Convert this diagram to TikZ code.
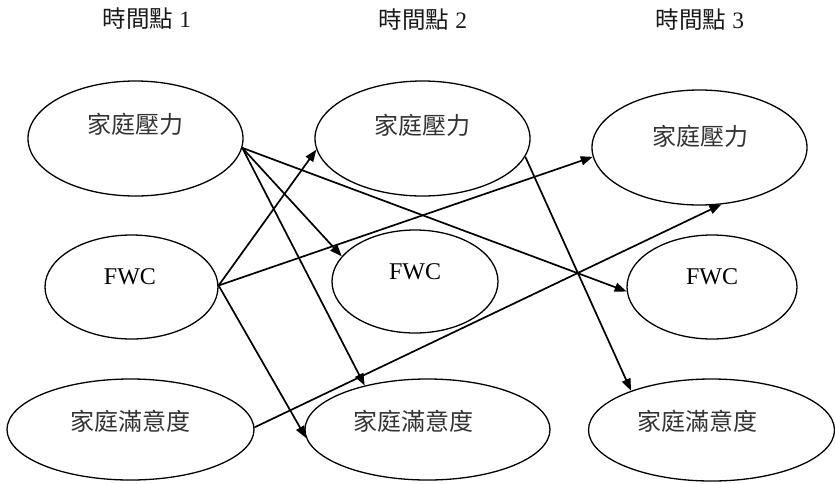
\documentclass[tikz,border=0pt]{standalone}
\usepackage{fontspec}
\setmainfont{Liberation Serif}
\newfontfamily\cjk{Noto Sans CJK TC}
\usetikzlibrary{shapes.geometric,arrows.meta}
\begin{document}
\begin{tikzpicture}[x=1pt,y=-1pt,
  ell/.style={ellipse,draw=black,line width=1.3pt,inner sep=0pt},
  lab/.style={font=\fontsize{24}{28}\selectfont,text=black!80,inner sep=0pt},
  latlab/.style={font=\fontsize{24}{28}\selectfont,text=black,inner sep=0pt},
  ttl/.style={font=\fontsize{23.5}{28}\selectfont,text=black!90,inner sep=0pt},
  arr/.style={line width=1.7pt,-{Triangle[length=12pt,width=9pt]}}]
\useasboundingbox (0,0) rectangle (835,483);
% titles
\node[ttl] (t1) at (147,19) {{\cjk 時間點} 1};
\node[ttl] (t2) at (423,20) {{\cjk 時間點} 2};
\node[ttl] (t3) at (700,20) {{\cjk 時間點} 3};
% ellipses
\node[ell,minimum width=215pt,minimum height=115pt] (A1) at (135.5,138.5) {};
\node[ell,minimum width=173pt,minimum height=104pt] (B1) at (131.5,287) {};
\node[ell,minimum width=247pt,minimum height=101pt] (C1) at (130.5,429.5) {};
\node[ell,minimum width=215pt,minimum height=115pt] (A2) at (422.5,138.5) {};
\node[ell,minimum width=166pt,minimum height=103pt] (B2) at (415,281.5) {};
\node[ell,minimum width=245pt,minimum height=101pt] (C2) at (427.5,429.5) {};
\node[ell,minimum width=215pt,minimum height=115pt] (A3) at (699.5,147.5) {};
\node[ell,minimum width=170pt,minimum height=104pt] (B3) at (712,287) {};
\node[ell,minimum width=246pt,minimum height=102pt] (C3) at (711.5,430) {};
% texts
\node[lab] (A1t) at (135,124) {\cjk 家庭壓力};
\node[latlab] (B1t) at (130,277) {FWC};
\node[lab] (C1t) at (130,421) {\cjk 家庭滿意度};
\node[lab] (A2t) at (422,125) {\cjk 家庭壓力};
\node[latlab] (B2t) at (415,272) {FWC};
\node[lab] (C2t) at (413,421) {\cjk 家庭滿意度};
\node[lab] (A3t) at (700,136) {\cjk 家庭壓力};
\node[latlab] (B3t) at (712,277) {FWC};
\node[lab] (C3t) at (697,421) {\cjk 家庭滿意度};
% arrows
\draw[arr] (A1.-5) -- (B3.183);
\draw[arr] (A1.-5) -- (B2.161);
\draw[arr] (A1.-5) -- (C2.145);
\draw[arr] (B1.1) -- (A2.186);
\draw[arr] (B1.1) -- (A3.185);
\draw[arr] (B1.1) -- (C2.184);
\draw[arr] (C1.1) -- (A3.-69);
\draw[arr] (A2.-10) -- (C3.154);
\end{tikzpicture}
\end{document}
